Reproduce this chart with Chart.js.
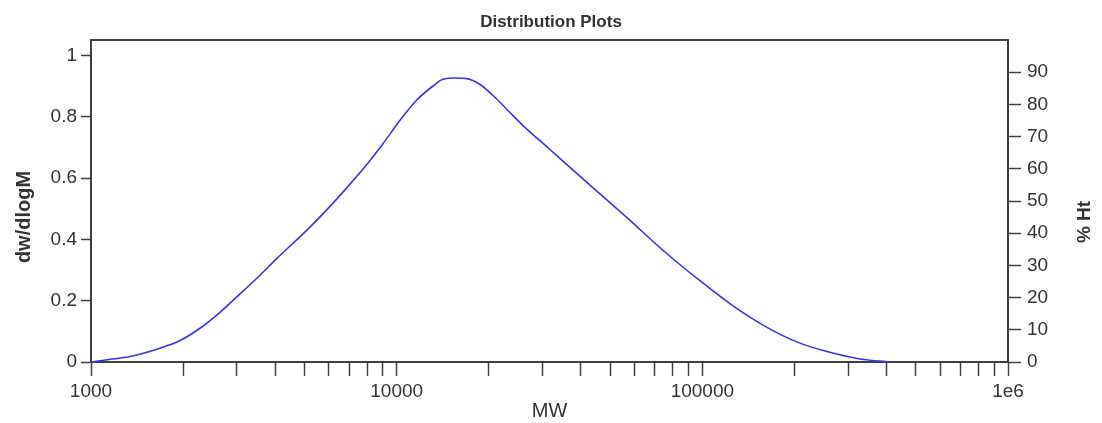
<!DOCTYPE html>
<html>
<head>
<meta charset="utf-8">
<script src="https://cdn.jsdelivr.net/npm/chart.js@4/dist/chart.umd.min.js"></script>
<style>
  html, body { margin: 0; padding: 0; background: #fff; }
  canvas { display: block; }
</style>
</head>
<body>
<canvas id="distChart" width="1102" height="423"></canvas>
<script>
// MW (x) and dw/dlogM (y)
const mwValues = [
  1000, 1180, 1342, 1682, 1956, 2273, 2642, 3073, 3572, 4059,
  5206, 6190, 7036, 7998, 9023, 10254, 11657, 13150, 14176, 15500,
  16990, 18737, 20666, 23130, 25900, 31740, 40690, 46270, 52580, 59330,
  66420, 76630, 98240, 126000, 162700, 205600, 255700, 328000, 411100
];
const dwValues = [
  0, 0.01, 0.018, 0.045, 0.07, 0.11, 0.162, 0.222, 0.283, 0.338,
  0.44, 0.518, 0.58, 0.645, 0.712, 0.788, 0.855, 0.9, 0.922, 0.926,
  0.924, 0.905, 0.869, 0.82, 0.771, 0.693, 0.597, 0.548, 0.499, 0.453,
  0.408, 0.353, 0.265, 0.183, 0.113, 0.064, 0.034, 0.01, 0
];

// axis ticks
const mwTicks = [];
for (let dec = 1000; dec < 1000000; dec *= 10) {
  for (let k = 1; k < 10; k++) mwTicks.push(k * dec);
}
mwTicks.push(1000000);
const mwMajorTicks = [1000, 10000, 100000, 1000000];
const mwMajorLabels = ["1000", "10000", "100000", "1e6"];
const dwTickLabels = ["0", "0.2", "0.4", "0.6", "0.8", "1"];

const axisColor = "#404040";
const textColor = "#333333";
const tickFont = { family: "Liberation Sans, Arial, sans-serif", size: 19 };

// frame on top + axis titles read bottom-to-top on both sides
const framePlugin = {
  id: "frame",
  afterDraw(chart) {
    const { ctx, chartArea } = chart;
    ctx.save();
    ctx.strokeStyle = axisColor;
    ctx.lineWidth = 2;
    ctx.beginPath();
    ctx.moveTo(chartArea.left, chartArea.top);
    ctx.lineTo(chartArea.right, chartArea.top);
    ctx.stroke();

    ctx.fillStyle = textColor;
    ctx.textAlign = "center";
    ctx.textBaseline = "middle";
    ctx.font = "bold 20px 'Liberation Sans', Arial, sans-serif";
    ctx.translate(24, 217);
    ctx.rotate(-Math.PI / 2);
    ctx.fillText("dw/dlogM", 0, 0);
    ctx.restore();

    ctx.save();
    ctx.fillStyle = textColor;
    ctx.textAlign = "center";
    ctx.textBaseline = "middle";
    ctx.font = "bold 19px 'Liberation Sans', Arial, sans-serif";
    ctx.translate(1085, 222);
    ctx.rotate(-Math.PI / 2);
    ctx.fillText("% Ht", 0, 0);
    ctx.restore();
  },
};

new Chart(document.getElementById("distChart"), {
  type: "line",
  data: {
    datasets: [
      {
        data: mwValues.map((mw, i) => ({ x: mw, y: dwValues[i] })),
        borderColor: "#3535e8",
        borderWidth: 1.6,
        pointRadius: 0,
        cubicInterpolationMode: "monotone",
        fill: false,
        yAxisID: "y",
      },
    ],
  },
  options: {
    responsive: false,
    devicePixelRatio: 1,
    animation: false,
    layout: { padding: 0 },
    plugins: {
      legend: { display: false },
      tooltip: { enabled: false },
      title: {
        display: true,
        text: "Distribution Plots",
        color: textColor,
        font: { family: "Liberation Sans, Arial, sans-serif", size: 17, weight: "bold", lineHeight: 1 },
        padding: { top: 14, bottom: 9 },
      },
    },
    scales: {
      x: {
        type: "logarithmic",
        position: "bottom",
        min: 1000,
        max: 1000000,
        afterBuildTicks: (scale) => {
          scale.ticks = mwTicks.map((v) => ({ value: v, major: mwMajorTicks.includes(v) }));
        },
        afterFit: (scale) => { scale.height = 61; },
        border: { display: true, color: axisColor, width: 2 },
        grid: { drawOnChartArea: false, drawTicks: true, tickLength: 14, tickColor: axisColor, tickWidth: 1.5 },
        ticks: {
          autoSkip: false,
          maxRotation: 0,
          padding: 4,
          color: textColor,
          font: tickFont,
          callback: (v) => {
            const idx = mwMajorTicks.indexOf(v);
            return idx >= 0 ? mwMajorLabels[idx] : "";
          },
        },
        title: {
          display: true,
          text: "MW",
          color: textColor,
          font: { family: "Liberation Sans, Arial, sans-serif", size: 20, lineHeight: 1.2 },
          padding: { top: 0, bottom: 0 },
        },
      },
      y: {
        position: "left",
        min: 0,
        max: 1.05,
        afterFit: (scale) => { scale.width = 91; },
        border: { display: true, color: axisColor, width: 2 },
        grid: { drawOnChartArea: false, drawTicks: true, tickLength: 10, tickColor: axisColor, tickWidth: 1.5 },
        ticks: {
          stepSize: 0.2,
          includeBounds: false,
          padding: 4,
          color: textColor,
          font: tickFont,
          callback: (v) => dwTickLabels[Math.round(v / 0.2)],
        },
      },
      y1: {
        position: "right",
        min: 0,
        max: 100,
        afterFit: (scale) => { scale.width = 94; },
        border: { display: true, color: axisColor, width: 2 },
        grid: { drawOnChartArea: false, drawTicks: true, tickLength: 13, tickColor: axisColor, tickWidth: 1.5 },
        ticks: {
          stepSize: 10,
          padding: 6,
          color: textColor,
          font: tickFont,
          callback: (v) => (v >= 100 ? null : String(v)),
        },
      },
    },
  },
  plugins: [framePlugin],
});
</script>
</body>
</html>
